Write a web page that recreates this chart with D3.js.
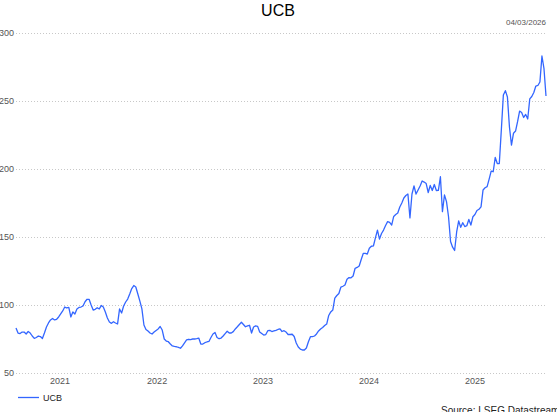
<!DOCTYPE html>
<html>
<head>
<meta charset="utf-8">
<script src="https://cdn.jsdelivr.net/npm/d3@7"></script>
<style>
  html, body { margin: 0; padding: 0; background: #fff; }
  svg { display: block; font-family: "Liberation Sans", Arial, sans-serif; }
</style>
</head>
<body>
<svg id="chart" width="557" height="412"></svg>
<script>
const title = "UCB";
const dateLabel = "04/03/2026";
const seriesName = "UCB";
const sourceText = "Source: LSEG Datastream";
const startDate = "2021-03-03";
const endDate = "2026-03-04";
const yTicks = [50, 100, 150, 200, 250, 300];
const yearLabels = [2021, 2022, 2023, 2024, 2025];
// weekly closing values
const values = [
  83.1, 79.4, 79.0, 80.1, 80.1, 78.7, 80.5, 79.4, 77.2, 75.5,
  76.1, 77.2, 76.8, 75.4, 79.4, 83.8, 86.8, 89.0, 90.1, 89.0,
  89.5, 91.2, 93.4, 95.6, 98.5, 97.8, 98.2, 91.2, 94.9, 93.4,
  97.1, 98.2, 98.5, 99.3, 102.4, 104.2, 104.2, 100.0, 96.3, 96.8,
  98.0, 97.1, 99.6, 98.5, 94.9, 90.4, 87.5, 86.5, 87.7, 86.8,
  86.0, 97.1, 94.1, 99.3, 102.2, 104.4, 108.1, 112.1, 114.3, 113.2,
  108.1, 102.9, 97.1, 85.3, 82.0, 80.9, 79.4, 78.7, 80.1, 81.3,
  82.4, 84.2, 81.6, 75.0, 73.5, 73.0, 71.3, 69.9, 69.5, 69.3,
  68.8, 68.2, 69.9, 72.1, 74.3, 74.8, 74.6, 75.0, 75.0, 75.2,
  75.7, 71.3, 71.3, 72.3, 72.8, 73.2, 76.1, 78.7, 79.8, 76.1,
  75.2, 75.7, 77.2, 79.0, 80.7, 79.4, 79.4, 80.4, 82.4, 84.0,
  85.7, 87.3, 85.7, 84.0, 84.6, 85.1, 79.4, 83.8, 84.6, 84.3,
  80.1, 79.0, 77.9, 78.3, 81.1, 81.3, 80.5, 80.9, 81.3, 82.0,
  82.4, 80.5, 81.1, 80.1, 78.3, 78.3, 78.5, 76.8, 72.1, 69.1,
  67.6, 66.9, 66.9, 68.4, 73.0, 76.7, 76.7, 77.2, 78.7, 80.9,
  82.4, 83.5, 84.9, 86.0, 92.3, 94.9, 96.3, 105.1, 107.0, 108.5,
  113.2, 113.8, 114.7, 118.9, 120.2, 120.0, 121.3, 127.0, 127.6, 128.7,
  133.5, 137.9, 137.9, 137.5, 141.7, 143.2, 143.4, 149.3, 155.1, 148.5,
  152.6, 155.1, 158.5, 161.3, 160.7, 158.8, 165.1, 166.5, 167.6, 172.1,
  175.0, 178.7, 180.5, 181.6, 164.0, 181.6, 187.5, 181.6, 184.6, 187.5,
  191.2, 190.4, 189.3, 182.7, 187.9, 184.2, 188.6, 184.2, 184.3, 194.3,
  168.6, 180.9, 176.0, 164.9, 146.7, 142.5, 140.1, 153.7, 161.8, 157.1,
  160.5, 157.7, 158.3, 162.9, 158.8, 164.9, 166.5, 169.5, 170.4, 172.1,
  184.6, 186.2, 187.0, 192.6, 198.5, 198.0, 208.5, 204.0, 204.0, 228.7,
  254.4, 257.6, 252.9, 230.9, 217.6, 226.3, 227.9, 234.8, 242.6, 241.5,
  237.9, 240.1, 236.8, 251.5, 253.3, 256.3, 261.0, 261.4, 264.0, 283.1,
  273.9, 253.7
];

const parse = d3.utcParse("%Y-%m-%d");
const t0 = parse(startDate), t1 = parse(endDate);
const n = values.length;
const data = values.map((v, i) => ({
  date: new Date(+t0 + (+t1 - +t0) * i / (n - 1)),
  value: v
}));

const svg = d3.select("#chart");
const plotLeft = 16, plotRight = 546, plotTop = 33, plotBottom = 373;
const x = d3.scaleUtc().domain([t0, t1]).range([plotLeft, plotRight]);
const y = d3.scaleLinear().domain([50, 300]).range([plotBottom, plotTop]);

const labelColor = "#555";

// gridlines
svg.append("g").selectAll("line").data(yTicks).join("line")
  .attr("x1", plotLeft).attr("x2", plotRight)
  .attr("y1", d => y(d) + 0.5).attr("y2", d => y(d) + 0.5)
  .attr("stroke", "#c8c8c8").attr("stroke-width", 1)
  .attr("stroke-dasharray", "1,2");

// y labels
svg.append("g").selectAll("text").data(yTicks).join("text")
  .attr("x", plotLeft - 2).attr("y", d => y(d))
  .attr("dy", "0.35em").attr("text-anchor", "end")
  .attr("font-size", 9).attr("fill", labelColor)
  .text(d => d);

// x labels centred in each year's visible span
svg.append("g").selectAll("text").data(yearLabels).join("text")
  .attr("x", d => {
    const a = Math.max(x(new Date(Date.UTC(d, 0, 1))), plotLeft);
    const b = Math.min(x(new Date(Date.UTC(d + 1, 0, 1))), plotRight);
    return (a + b) / 2;
  })
  .attr("y", 384).attr("text-anchor", "middle")
  .attr("font-size", 9).attr("fill", labelColor)
  .text(d => d);

// line
const line = d3.line().x(d => x(d.date)).y(d => y(d.value));
svg.append("path").datum(data)
  .attr("d", line).attr("fill", "none")
  .attr("stroke", "#3366ff").attr("stroke-width", 1.3)
  .attr("stroke-linejoin", "round");

// title
svg.append("text").attr("x", 278).attr("y", 16)
  .attr("text-anchor", "middle").attr("font-size", 16).attr("fill", "#000")
  .text(title);

// date
svg.append("text").attr("x", plotRight).attr("y", 25)
  .attr("text-anchor", "end").attr("font-size", 8).attr("fill", labelColor)
  .text(dateLabel);

// legend
svg.append("line").attr("x1", 18).attr("x2", 39).attr("y1", 397.5).attr("y2", 397.5)
  .attr("stroke", "#3366ff").attr("stroke-width", 1.3);
svg.append("text").attr("x", 43).attr("y", 401)
  .attr("font-size", 9).attr("fill", "#222").text(seriesName);

// source
svg.append("text").attr("x", 441).attr("y", 414)
  .attr("font-size", 10).attr("fill", "#222").text(sourceText);
</script>
</body>
</html>
